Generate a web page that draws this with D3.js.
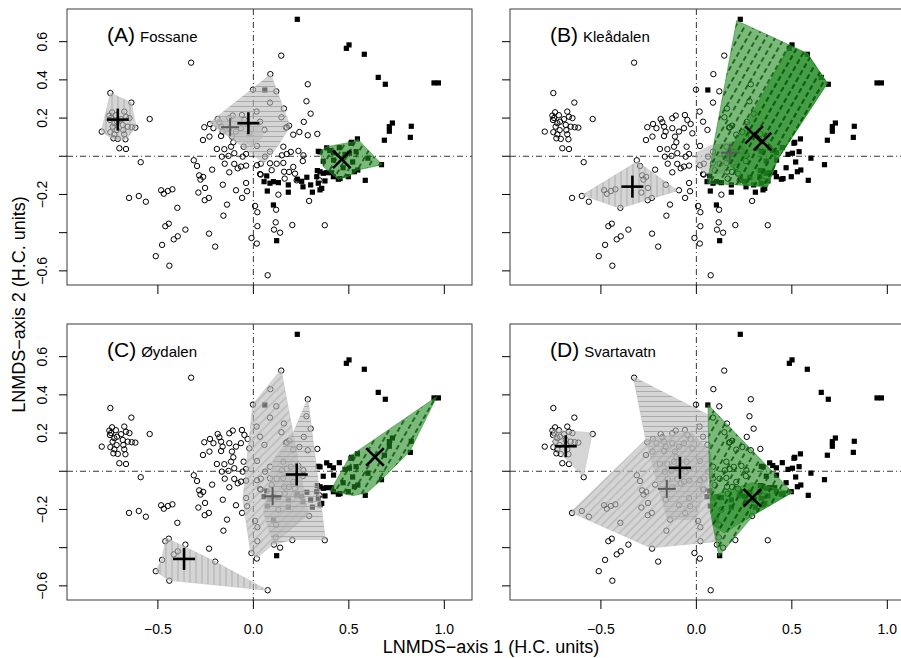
<!DOCTYPE html>
<html>
<head>
<meta charset="utf-8">
<script src="https://cdn.jsdelivr.net/npm/d3@7"></script>
<style>
  body { margin: 0; background: #fff; }
  text { font-family: "Liberation Sans", Arial, sans-serif; }
</style>
</head>
<body>
<div id="chart"></div>
<script>
// ---- data (LNMDS scores, H.C. units) ----
const panelNames = ['Fossane', 'Kleådalen', 'Øydalen', 'Svartavatn'];
const panelLetters = ['(A)', '(B)', '(C)', '(D)'];

const xTicks = [-0.5, 0, 0.5, 1.0];
const yTicks = [-0.6, -0.4, -0.2, 0, 0.2, 0.4, 0.6];
const yLabelled = [-0.6, -0.2, 0.2, 0.4, 0.6];

// open circles
const circlePts = [
  [-0.749,0.331],[-0.639,0.281],[-0.543,0.195],[-0.794,0.129],[-0.754,0.213],[-0.740,0.230],
  [-0.751,0.190],[-0.728,0.173],[-0.737,0.155],[-0.714,0.181],[-0.693,0.194],[-0.676,0.234],
  [-0.667,0.207],[-0.684,0.164],[-0.658,0.155],[-0.637,0.152],[-0.618,0.150],[-0.749,0.126],
  [-0.728,0.115],[-0.733,0.094],[-0.710,0.091],[-0.676,0.115],[-0.670,0.089],[-0.702,0.042],
  [-0.667,0.038],[-0.681,0.137],[-0.716,0.137],[-0.649,0.200],[-0.745,0.200],[-0.720,0.215],
  [-0.326,0.490],[0.146,0.527],[0.089,0.430],[-0.002,0.349],[0.087,0.281],[0.285,0.377],
  [0.278,0.288],[0.300,0.223],[0.264,0.180],[0.187,0.160],[0.171,0.150],[0.241,0.127],
  [0.209,0.113],[0.285,0.110],[0.335,0.117],[0.147,0.204],[0.175,0.152],[0.017,0.234],
  [0.035,0.181],[0.058,0.138],[0.019,0.054],[-0.590,-0.031],[0.120,0.340],[0.160,0.250],
  [-0.257,0.152],[-0.227,0.169],[-0.187,0.195],[-0.178,0.178],[-0.169,0.155],[-0.209,0.147],
  [-0.161,0.129],[-0.126,0.199],[-0.108,0.213],[-0.060,0.216],[-0.047,0.190],[-0.030,0.169],
  [-0.065,0.147],[-0.021,0.120],[-0.126,0.147],[-0.091,0.129],[-0.112,0.103],[-0.105,0.073],
  [-0.117,0.050],[-0.169,0.106],[-0.230,0.103],[-0.264,0.085],[-0.152,0.037],[-0.191,0.038],
  [-0.165,-0.002],[-0.130,0.002],[-0.100,0.016],[-0.051,0.050],[-0.038,0.012],[-0.056,-0.002],
  [-0.100,-0.040],[-0.065,-0.054],[-0.038,-0.049],[-0.082,-0.063],[-0.126,-0.084],
  [-0.312,-0.021],[-0.295,-0.051],[-0.284,-0.100],[-0.263,-0.108],[-0.277,-0.122],[-0.216,-0.070],
  [-0.150,-0.039],
  [-0.160,-0.149],[-0.091,-0.178],[-0.059,-0.218],[-0.038,-0.140],[-0.033,-0.183],[-0.253,-0.166],
  [-0.288,-0.190],[-0.233,-0.218],[-0.255,-0.230],[-0.138,-0.253],[-0.157,-0.311],[0.009,-0.260],
  [0.021,-0.293],[0.021,-0.366],[-0.010,-0.428],[0.018,-0.457],[0.075,-0.623],[0.039,-0.096],
  [0.019,-0.047],[0.039,-0.039],
  [-0.483,-0.178],[-0.469,-0.196],[-0.448,-0.182],[-0.424,-0.173],[-0.651,-0.218],[-0.600,-0.208],
  [-0.563,-0.238],[-0.398,-0.270],[-0.461,-0.366],[-0.443,-0.353],[-0.356,-0.384],[-0.417,-0.435],
  [-0.396,-0.419],[-0.478,-0.464],[-0.511,-0.523],[-0.440,-0.573],[-0.232,-0.405],[-0.200,-0.473],
  [0.131,-0.201],[0.292,-0.234],[0.119,-0.280],[0.117,-0.346],[0.204,-0.360],[0.108,-0.384],
  [0.140,-0.400],[0.374,-0.361],[0.164,-0.117],[0.187,-0.082],[0.209,-0.056],[0.218,-0.091],
  [0.227,-0.126],[0.259,-0.025],[0.262,0.005],[0.236,0.028],[0.196,0.023],[0.157,-0.035],
  [0.122,-0.039],[0.096,-0.073],[0.149,0.005],[0.346,-0.126],
  [0.061,-0.002],[0.087,0.024],[0.157,0.050],[0.175,0.012],[0.161,-0.081],[0.035,-0.093],[0.087,-0.037]
];

// filled squares
const squarePts = [
  [0.230,0.717],[0.487,0.565],[0.501,0.583],[0.581,0.534],[0.654,0.413],[0.691,0.377],
  [0.946,0.384],[0.969,0.384],[0.728,0.174],[0.712,0.155],[0.712,0.131],[0.827,0.157],
  [0.822,0.099],[0.686,0.084],[0.545,0.091],[0.515,0.073],[0.671,-0.044],[0.586,-0.126],
  [0.547,-0.072],[0.497,-0.107],[0.529,-0.081],[0.511,0.068],[0.538,0.024],[0.503,0.016],
  [0.335,-0.075],[0.349,-0.081],[0.366,-0.089],[0.384,-0.086],[0.410,-0.086],[0.419,-0.107],
  [0.445,-0.120],[0.332,-0.107],[0.375,-0.129],[0.340,-0.141],[0.358,-0.168],[0.309,-0.188],
  [0.349,-0.176],[0.454,-0.117],
  [0.070,-0.103],[0.056,-0.133],[0.087,-0.141],[0.105,-0.133],[0.131,-0.138],[0.073,-0.182],
  [0.183,-0.150],[0.183,-0.188],[0.105,-0.255],[0.122,-0.442],[0.253,-0.131],[0.349,0.023],
  [0.060,0.347],[0.384,0.044],[0.419,0.018],[0.366,-0.026],[0.340,0.026],
  [0.400,0.030],[0.450,0.045],[0.480,0.010],[0.420,-0.020],[0.520,-0.030],[0.600,-0.010],
  [0.470,-0.060],[0.280,-0.110],[0.300,-0.150],[0.260,-0.160],[0.230,-0.120]
];

// convex hulls of the site subsets, one array per panel
const hullsA = [
  { kind: 'grey', pts: [[-0.749,0.331],[-0.639,0.281],[-0.614,0.152],[-0.665,0.091],[-0.731,0.087],[-0.796,0.129]] },
  { kind: 'grey', pts: [[0.091,0.429],[0.192,0.159],[0.131,0.059],[0.056,-0.037],[-0.056,0.050],[-0.230,0.176]] },
  { kind: 'grey', pts: [[-0.230,0.176],[-0.105,0.216],[0.035,0.164],[0.052,0.103],[0.0,0.050],[-0.157,0.120]] },
  { kind: 'green', pts: [[0.349,0.024],[0.384,0.050],[0.524,0.076],[0.547,0.089],[0.674,-0.044],[0.547,-0.072],[0.497,-0.107],[0.445,-0.120],[0.366,-0.054]] }
];
const hullsB = [
  { kind: 'grey', pts: [[-0.309,-0.028],[-0.099,-0.180],[-0.400,-0.272],[-0.597,-0.203]] },
  { kind: 'grey', pts: [[0.002,0.019],[0.075,0.056],[0.249,0.085],[0.267,-0.002],[0.145,-0.089],[0.040,-0.089],[-0.004,-0.037]] },
  { kind: 'green', pts: [[0.211,0.710],[0.581,0.539],[0.686,0.382],[0.424,-0.019],[0.372,-0.159],[0.058,-0.141],[0.089,0.050]] },
  { kind: 'green', pts: [[0.485,0.574],[0.581,0.539],[0.686,0.382],[0.424,-0.019],[0.372,-0.159],[0.249,-0.150],[0.145,-0.002],[0.249,0.147]] }
];
const hullsC = [
  { kind: 'grey', pts: [[-0.457,-0.349],[-0.204,-0.471],[0.073,-0.623],[-0.441,-0.571],[-0.511,-0.524],[-0.480,-0.462]] },
  { kind: 'grey', pts: [[0.145,0.532],[0.288,-0.227],[0.018,-0.454],[-0.014,-0.427],[-0.055,-0.148],[-0.003,0.349]] },
  { kind: 'grey', pts: [[0.285,0.381],[0.377,-0.358],[0.206,-0.358],[0.105,-0.384],[0.052,-0.218],[0.105,0.061],[0.209,0.201]] },
  { kind: 'green', pts: [[0.960,0.390],[0.820,0.105],[0.672,-0.043],[0.594,-0.113],[0.524,-0.127],[0.402,-0.105],[0.506,0.079]] }
];
const hullsD = [
  { kind: 'grey', pts: [[-0.754,0.218],[-0.545,0.201],[-0.592,-0.029],[-0.746,0.131]] },
  { kind: 'grey', pts: [[-0.330,0.494],[0.058,0.297],[0.075,0.0],[-0.004,-0.253],[-0.152,-0.253],[-0.265,0.166]] },
  { kind: 'grey', pts: [[-0.265,0.166],[-0.030,0.209],[0.075,0.096],[0.127,-0.366],[-0.239,-0.401],[-0.658,-0.215]] },
  { kind: 'green', pts: [[0.061,0.349],[0.503,-0.110],[0.302,-0.227],[0.118,-0.445],[0.075,-0.218],[0.066,0.079]] },
  { kind: 'green', pts: [[0.075,-0.131],[0.290,-0.060],[0.503,-0.110],[0.302,-0.227],[0.145,-0.323],[0.085,-0.280]] }
];

// group centroids
const centresA = [
  { mark: 'plus', at: [-0.710,0.192] }, { mark: 'plus', at: [-0.026,0.173] },
  { mark: 'plusMinor', at: [-0.122,0.152] }, { mark: 'times', at: [0.463,-0.016] }
];
const centresB = [
  { mark: 'plus', at: [-0.335,-0.159] }, { mark: 'plusMinor', at: [0.176,0.019] },
  { mark: 'times', at: [0.302,0.112] }, { mark: 'times', at: [0.346,0.077] }
];
const centresC = [
  { mark: 'plus', at: [-0.363,-0.459] }, { mark: 'plus', at: [0.227,-0.017] },
  { mark: 'plusMinor', at: [0.101,-0.131] }, { mark: 'times', at: [0.637,0.075] }
];
const centresD = [
  { mark: 'plus', at: [-0.684,0.131] }, { mark: 'plus', at: [-0.086,0.018] },
  { mark: 'plusMinor', at: [-0.155,-0.092] }, { mark: 'times', at: [0.293,-0.139] }
];

const panelHulls = [hullsA, hullsB, hullsC, hullsD];
const panelCentres = [centresA, centresB, centresC, centresD];

// ---- layout ----
const width = 901, height = 658;
const panelW = 405, panelH = 276;
const colX = [67, 510], rowY = [9, 324];

// hatching used for each hull, by panel
const hatchStyle = [
  ['hatch-v', 'hatch-h', null, 'hatch-green'],
  ['hatch-v', null, 'hatch-green', 'hatch-green'],
  ['hatch-v', 'hatch-d', 'hatch-h', 'hatch-green'],
  [null, 'hatch-h', 'hatch-d', 'hatch-green', 'hatch-green']
];

const minus = s => s.replace('-', '\u2212');

const svg = d3.select('#chart').append('svg')
  .attr('width', width)
  .attr('height', height)
  .style('background', '#fff');

const x = d3.scaleLinear().domain([-0.976, 1.145]).range([0, panelW]);
const y = d3.scaleLinear().domain([-0.674, 0.771]).range([panelH, 0]);

const defs = svg.append('defs');
defs.append('clipPath').attr('id', 'panel-clip')
  .append('rect').attr('width', panelW).attr('height', panelH);

function hatch(id, angle, color, w, gap, len) {
  const p = defs.append('pattern')
    .attr('id', id)
    .attr('patternUnits', 'userSpaceOnUse')
    .attr('width', gap)
    .attr('height', gap)
    .attr('patternTransform', `rotate(${angle})`);
  p.append('line')
    .attr('x1', 0).attr('y1', gap / 2)
    .attr('x2', len || gap).attr('y2', gap / 2)
    .attr('stroke', color)
    .attr('stroke-width', w);
}
hatch('hatch-h', 0, '#9a9a9a', 0.7, 5);
hatch('hatch-v', 90, '#9a9a9a', 0.7, 6);
hatch('hatch-d', -45, '#9a9a9a', 0.7, 6);
hatch('hatch-green', -60, '#0a560a', 1.6, 8, 5);

const line = d3.line().x(d => x(d[0])).y(d => y(d[1]));

panelNames.forEach((name, i) => {
  const col = i % 2, row = Math.floor(i / 2);
  const g = svg.append('g').attr('transform', `translate(${colX[col]},${rowY[row]})`);
  const plot = g.append('g').attr('clip-path', 'url(#panel-clip)');

  // zero reference lines
  plot.append('line')
    .attr('x1', x(0)).attr('x2', x(0)).attr('y1', 0).attr('y2', panelH)
    .attr('stroke', '#000').attr('stroke-width', 0.8)
    .attr('stroke-dasharray', '6,3,1,3');
  plot.append('line')
    .attr('x1', 0).attr('x2', panelW).attr('y1', y(0)).attr('y2', y(0))
    .attr('stroke', '#000').attr('stroke-width', 0.8)
    .attr('stroke-dasharray', '6,3,1,3');

  // points
  plot.append('g').selectAll('circle')
    .data(circlePts)
    .join('circle')
    .attr('cx', d => x(d[0]))
    .attr('cy', d => y(d[1]))
    .attr('r', 2.7)
    .attr('fill', 'none')
    .attr('stroke', '#000')
    .attr('stroke-width', 1);

  plot.append('g').selectAll('rect')
    .data(squarePts)
    .join('rect')
    .attr('x', d => x(d[0]) - 2.6)
    .attr('y', d => y(d[1]) - 2.6)
    .attr('width', 5.2)
    .attr('height', 5.2)
    .attr('fill', '#000');

  // hulls
  const hulls = panelHulls[i];
  hulls.forEach((h, k) => {
    const green = h.kind === 'green';
    const d = line(h.pts) + 'Z';
    plot.append('path')
      .attr('d', d)
      .attr('fill', green ? '#228b22' : '#b9b9b9')
      .attr('fill-opacity', 0.6)
      .attr('stroke', green ? '#2f8f2f' : '#c4c4c4')
      .attr('stroke-width', 0.6);
    const pat = hatchStyle[i][k];
    if (pat) {
      plot.append('path')
        .attr('d', d)
        .attr('fill', `url(#${pat})`)
        .attr('stroke', 'none');
    }
  });

  // centroids
  panelCentres[i].forEach(c => {
    const cx = x(c.at[0]), cy = y(c.at[1]);
    const minor = c.mark === 'plusMinor';
    const r = minor ? 9 : 11;
    const segs = c.mark === 'times'
      ? [[-r, -r, r, r], [-r, r, r, -r]].map(s => s.map(v => v * 0.8))
      : [[-r, 0, r, 0], [0, -r, 0, r]];
    segs.forEach(s => {
      plot.append('line')
        .attr('x1', cx + s[0]).attr('y1', cy + s[1])
        .attr('x2', cx + s[2]).attr('y2', cy + s[3])
        .attr('stroke', minor ? '#5a5a5a' : '#000')
        .attr('stroke-width', minor ? 2 : 2.6);
    });
  });

  // frame
  g.append('rect')
    .attr('width', panelW).attr('height', panelH)
    .attr('fill', 'none')
    .attr('stroke', '#3a3a3a')
    .attr('stroke-width', 1);

  // ticks
  g.append('g').selectAll('line')
    .data(xTicks)
    .join('line')
    .attr('x1', d => x(d)).attr('x2', d => x(d))
    .attr('y1', panelH).attr('y2', panelH + 9)
    .attr('stroke', '#000');
  g.append('g').selectAll('line')
    .data(yTicks)
    .join('line')
    .attr('y1', d => y(d)).attr('y2', d => y(d))
    .attr('x1', 0).attr('x2', -8)
    .attr('stroke', '#000');

  if (row === 1) {
    g.append('g').selectAll('text')
      .data(xTicks)
      .join('text')
      .attr('x', d => x(d))
      .attr('y', panelH + 34)
      .attr('text-anchor', 'middle')
      .attr('font-size', 14)
      .text(d => minus(d3.format('.1f')(d)));
  }
  if (col === 0) {
    g.append('g').selectAll('text')
      .data(yLabelled)
      .join('text')
      .attr('transform', d => `translate(-20,${y(d)}) rotate(-90)`)
      .attr('text-anchor', 'middle')
      .attr('font-size', 14)
      .text(d => minus(d3.format('.1f')(d)));
  }

  // panel title
  const title = g.append('text')
    .attr('x', 40)
    .attr('y', 33);
  title.append('tspan').attr('font-size', 21).text(panelLetters[i]);
  title.append('tspan').attr('font-size', 15).attr('dx', 5).text(name);
});

// axis titles
svg.append('text')
  .attr('x', (colX[0] + colX[1] + panelW) / 2)
  .attr('y', 653)
  .attr('text-anchor', 'middle')
  .attr('font-size', 18)
  .text('LNMDS\u2212axis 1 (H.C. units)');

svg.append('text')
  .attr('transform', `translate(25,${(rowY[0] + rowY[1] + panelH) / 2}) rotate(-90)`)
  .attr('text-anchor', 'middle')
  .attr('font-size', 18)
  .text('LNMDS\u2212axis 2 (H.C. units)');
</script>
</body>
</html>
